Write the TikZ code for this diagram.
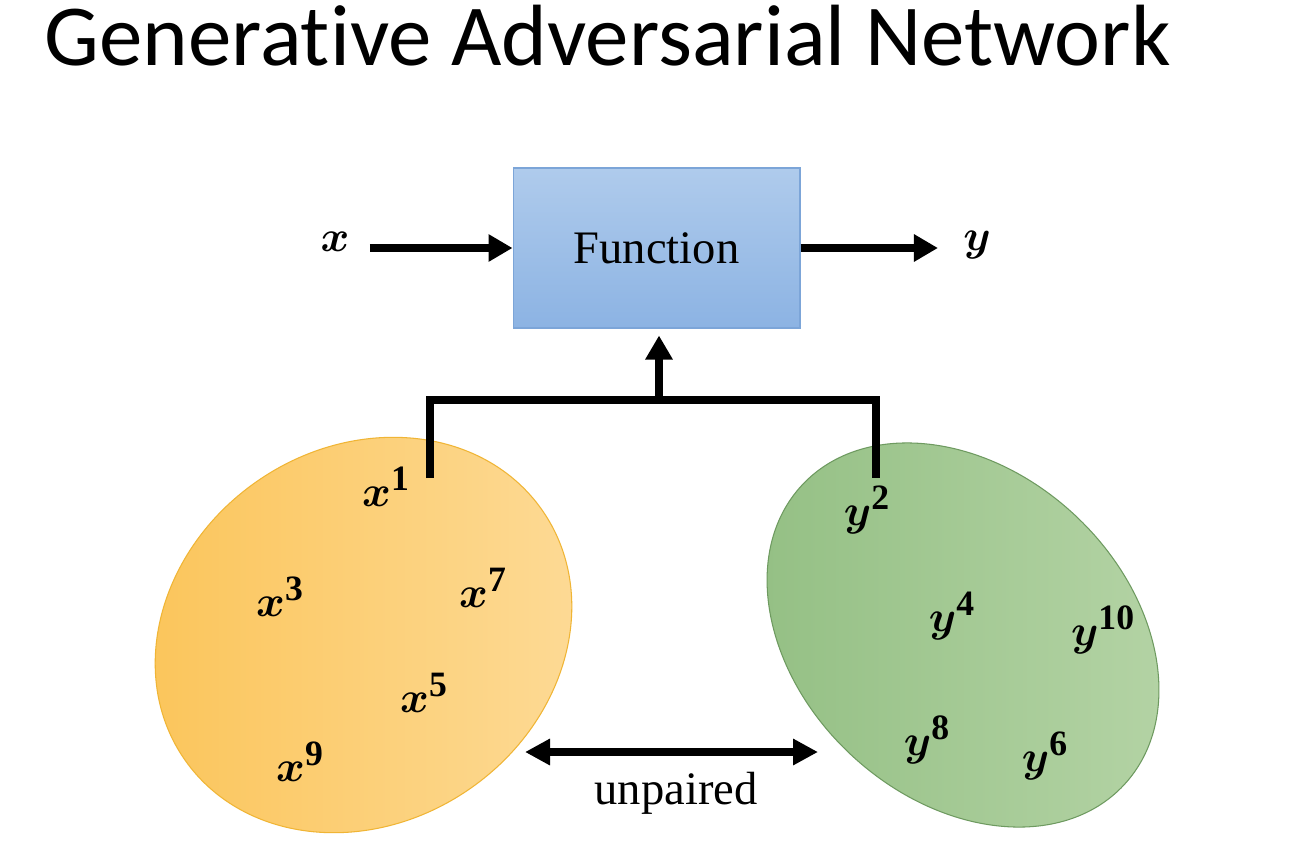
\documentclass[tikz,border=0pt]{standalone}
\usepackage{fontspec}
\setmainfont{Liberation Serif}
\newfontfamily\titlefont[Ligatures=NoCommon]{Carlito}
\usepackage{bm}
\usetikzlibrary{arrows.meta,shapes.geometric}
\definecolor{boxtop}{HTML}{AFCBEC}
\definecolor{boxbot}{HTML}{8CB3E3}
\definecolor{boxline}{HTML}{7CA5D8}
\definecolor{orDark}{HTML}{FBC458}
\definecolor{orLight}{HTML}{FDDB98}
\definecolor{orLine}{HTML}{F0B535}
\definecolor{grDark}{HTML}{93BF83}
\definecolor{grLight}{HTML}{B5D4A6}
\definecolor{grLine}{HTML}{6E9A60}
\begin{document}
\begin{tikzpicture}[x=0.02cm,y=-0.02cm,
  conn/.style={line width=0.16cm, black, line join=miter},
  arr/.style={conn, -{Triangle[length=0.48cm,width=0.52cm]}},
  dblarr/.style={conn, {Triangle[length=0.5cm,width=0.5cm]}-{Triangle[length=0.5cm,width=0.5cm]}},
  lab/.style={font=\fontsize{29}{35}\selectfont, inner sep=0},
  serif/.style={font=\fontsize{26.5}{32}\selectfont, inner sep=0},
  blob/.style={ellipse, inner sep=0, line width=0.6pt},
]
\useasboundingbox (0,0) rectangle (1293,845);
\fill[white] (0,0) rectangle (1293,845);

% title
\node[anchor=base west, inner sep=0, font=\titlefont\fontsize{49.5}{58}\selectfont] (title) at (44,65) {Generative Adversarial Network};

% function box
\node[draw=boxline, line width=0.6pt, top color=boxtop, bottom color=boxbot,
      minimum width=5.74cm, minimum height=3.2cm, inner sep=0, serif] (fn) at (656.5,248) {Function};

% input / output
\node[lab] (xin) at (335,242) {$\bm{x}$};
\node[lab] (yout) at (977,245) {$\bm{y}$};
\draw[arr, shorten <=0.4cm] (fn.west -| xin.east) -- (fn.west);
\draw[arr, shorten >=0.5cm] (fn.east) -- (fn.east -| yout.west);

% sets
\node[blob, draw=orLine, left color=orDark, right color=orLight,
      minimum width=8.72cm, minimum height=7.48cm, rotate=35] (X) at (363.5,635) {};
\node[blob, draw=grLine, left color=grDark, right color=grLight,
      minimum width=8.8cm, minimum height=6.56cm, rotate=-43] (Y) at (963,635) {};

% x samples
\node[lab] (x1) at (386,487) {$\bm{x}^{\mathbf{1}}$};
\node[lab] (x3) at (280,597) {$\bm{x}^{\mathbf{3}}$};
\node[lab] (x7) at (483,588) {$\bm{x}^{\mathbf{7}}$};
\node[lab] (x5) at (424,693) {$\bm{x}^{\mathbf{5}}$};
\node[lab] (x9) at (300,762) {$\bm{x}^{\mathbf{9}}$};

% y samples
\node[lab] (y2) at (867,510) {$\bm{y}^{\mathbf{2}}$};
\node[lab] (y4) at (952,616) {$\bm{y}^{\mathbf{4}}$};
\node[lab] (y10) at (1103,630) {$\bm{y}^{\mathbf{10}}$};
\node[lab] (y8) at (927,740) {$\bm{y}^{\mathbf{8}}$};
\node[lab] (y6) at (1045,756) {$\bm{y}^{\mathbf{6}}$};

% bracket to function
\coordinate (la) at (430,478);
\coordinate (ra) at (876,478);
\coordinate (jn) at (659,400);
\draw[conn] (la) |- (jn) -| (ra);
\draw[arr, shorten >=7*0.02cm] (jn) -- (fn.south -| jn);

% unpaired
\coordinate (ua) at (525,752);
\coordinate (ub) at (818,752);
\draw[dblarr] (ua) -- (ub);
\node[serif] (unp) at (676,793) {unpaired};
\end{tikzpicture}
\end{document}
